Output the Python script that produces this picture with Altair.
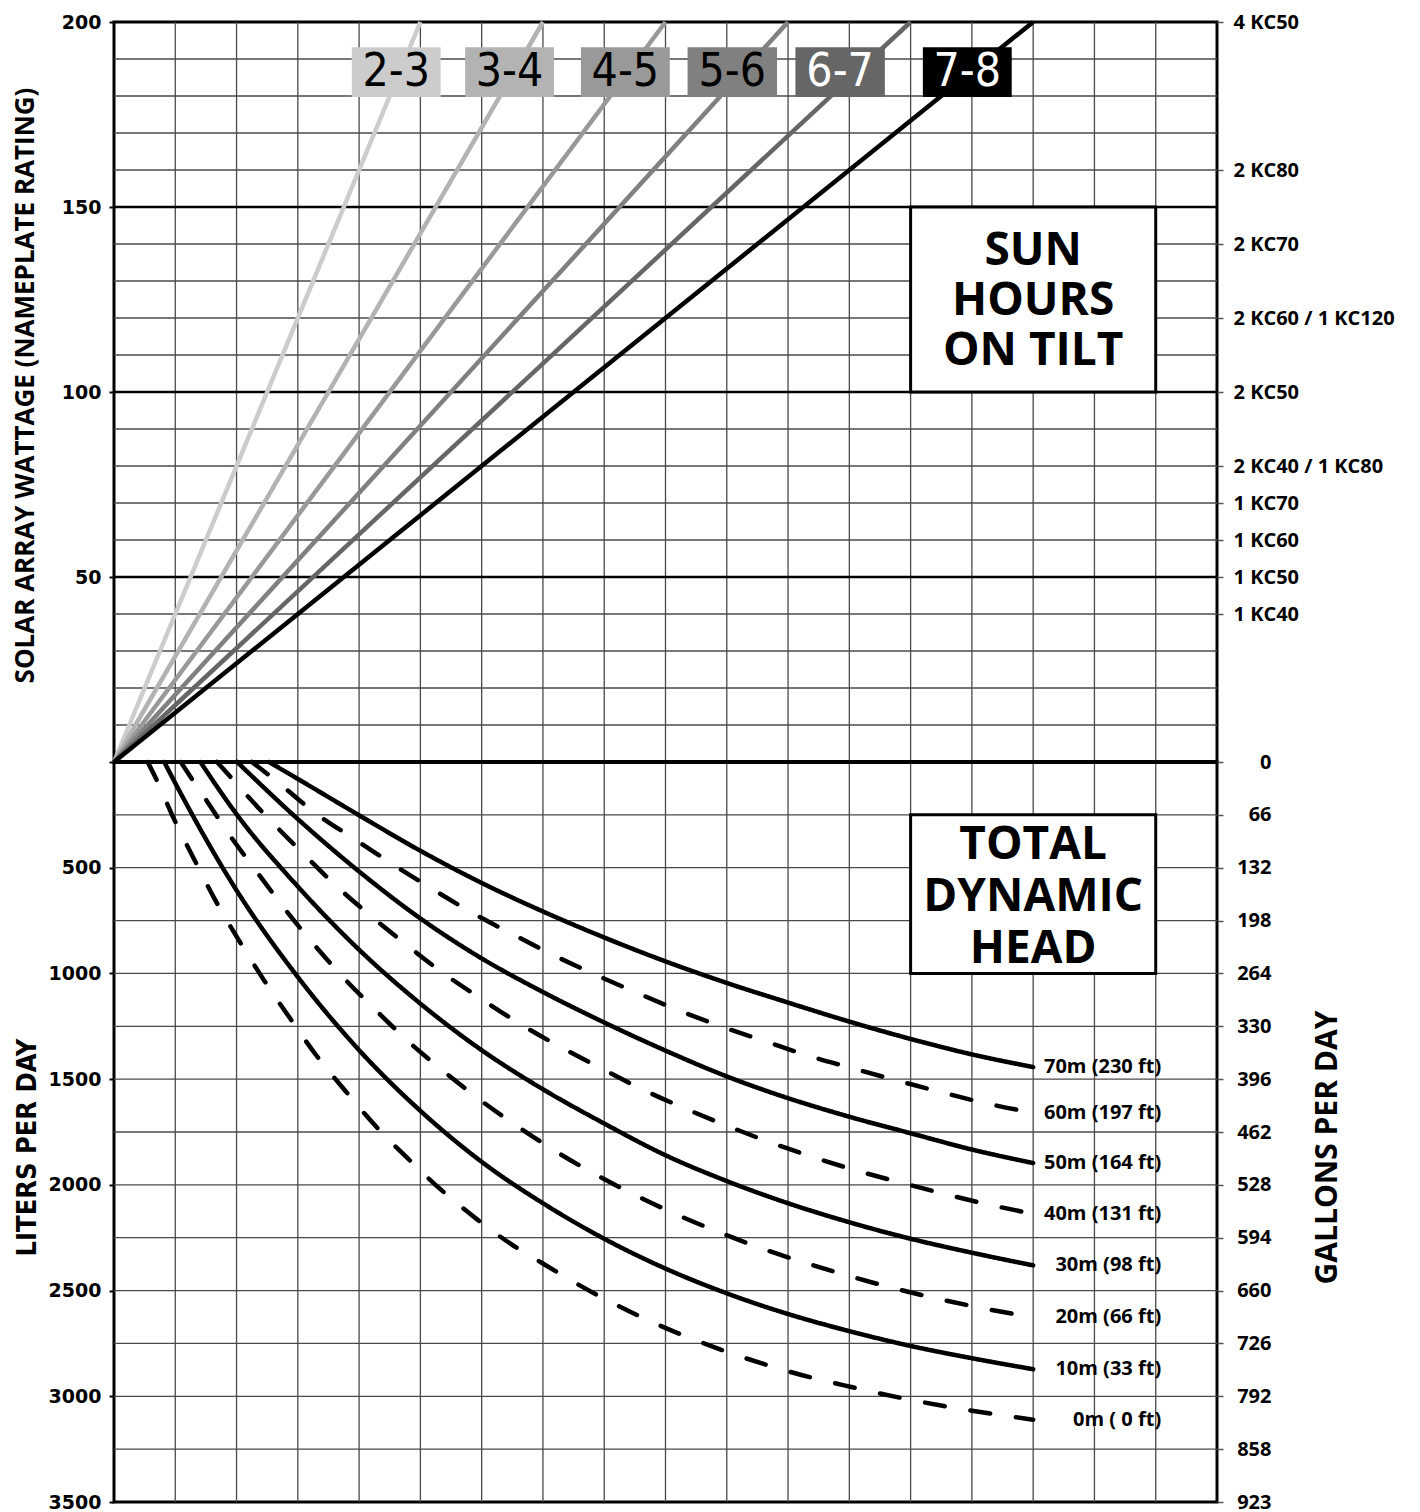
import altair as alt
import pandas as pd

# ---------------- data ----------------
GRID_COLS = list(range(1, 18))
WATT_MINOR = [10, 20, 30, 40, 60, 70, 80, 90, 110, 120, 130, 140, 160, 170, 180, 190]
WATT_MAJOR = [50, 100, 150]
WATT_LEFT = [0, 50, 100, 150, 200]
KC_WATTS = [200, 160, 140, 120, 100, 80, 70, 60, 50, 40]
KC_LABELS = ["4 KC50", "2 KC80", "2 KC70", "2 KC60 / 1 KC120", "2 KC50",
             "2 KC40 / 1 KC80", "1 KC70", "1 KC60", "1 KC50", "1 KC40"]

SUN_SERIES = ["2-3", "3-4", "4-5", "5-6", "6-7", "7-8"]
SUN_COL_AT_200W = [5, 7, 9, 11, 13, 15]
SUN_GRAYS = ["#cccccc", "#b3b3b3", "#999999", "#808080", "#666666", "#000000"]
SUN_TAG_X0 = [3.88, 5.73, 7.62, 9.36, 11.12, 13.2]
SUN_TAG_X1 = [5.33, 7.18, 9.07, 10.82, 12.58, 14.65]
SUN_TAG_W = [179.7, 193.2]

LITER_MINOR = list(range(250, 3500, 250))
LITER_LEFT = [500, 1000, 1500, 2000, 2500, 3000, 3500]
LITER_RIGHT = list(range(0, 3501, 250))
GALLON_LABELS = ["0", "66", "132", "198", "264", "330", "396", "462", "528",
                 "594", "660", "726", "792", "858", "923"]

TDH_NAMES = ["0m ( 0 ft)", "10m (33 ft)", "20m (66 ft)", "30m (98 ft)",
             "40m (131 ft)", "50m (164 ft)", "60m (197 ft)", "70m (230 ft)"]
TDH_STYLE = ["dashed", "solid", "dashed", "solid", "dashed", "solid", "dashed", "solid"]

TDH_0_X = [0.55, 0.68, 0.98, 1.32, 1.66, 2.05, 2.45, 2.87, 3.3, 3.78, 4.27, 4.79, 5.34,
           5.92, 6.52, 6.9, 7.84, 8.5, 9.18, 9.89, 10.6, 11.32, 12.05, 12.78, 13.52, 14.27, 15]
TDH_0_L = [0, 75, 270, 467, 657, 849, 1033, 1211, 1387, 1557, 1722, 1874, 2024,
           2162, 2288, 2355, 2514, 2611, 2699, 2778, 2847, 2907, 2957, 3004, 3045, 3080, 3111]
TDH_10_X = [0.82, 1, 2, 3, 4, 5, 6, 7, 8, 9, 10, 11, 12, 13, 14, 15]
TDH_10_L = [0, 100, 607, 1017, 1363, 1650, 1891, 2087, 2255, 2396, 2513, 2611, 2692, 2762, 2820, 2872]
TDH_20_X = [1.09, 1.25, 1.47, 1.88, 2.33, 2.78, 3.26, 3.76, 4.29, 4.83, 5.41, 6.0, 6.6, 7.24,
            7.9, 8.57, 9.25, 9.96, 10.65, 11.35, 12.08, 12.81, 13.54, 14.28, 15]
TDH_20_L = [0, 71, 165, 343, 519, 692, 862, 1025, 1179, 1329, 1470, 1604, 1726, 1847,
            1957, 2058, 2149, 2234, 2309, 2375, 2438, 2495, 2545, 2589, 2627]
TDH_30_X = [1.41, 2, 3, 4, 5, 6, 7, 8, 9, 10, 11, 12, 13, 14, 15]
TDH_30_L = [0, 247, 589, 888, 1143, 1363, 1548, 1710, 1860, 1982, 2087, 2177, 2255, 2321, 2381]
TDH_40_X = [1.68, 1.77, 2.02, 2.53, 3.07, 3.6, 4.17, 4.76, 5.35, 5.97, 6.6, 7.26, 7.91, 8.59,
            9.28, 9.96, 10.66, 11.37, 12.08, 12.81, 13.54, 14.27, 15]
TDH_40_L = [0, 28, 110, 270, 428, 579, 723, 862, 994, 1116, 1234, 1344, 1443, 1544,
            1634, 1715, 1794, 1865, 1929, 1987, 2042, 2093, 2137]
TDH_50_X = [2.01, 3, 4, 5, 6, 7, 8, 9, 10, 11, 12, 13, 14, 15]
TDH_50_L = [0, 270, 518, 740, 929, 1088, 1232, 1365, 1487, 1590, 1678, 1756, 1833, 1897]
TDH_60_X = [2.25, 2.39, 2.72, 3.26, 3.92, 4.55, 5.19, 5.83, 6.5, 7.16, 7.84, 8.53, 9.22, 9.93,
            10.64, 11.34, 12.07, 12.8, 13.52, 14.24, 15]
TDH_60_L = [0, 31, 107, 236, 364, 484, 600, 711, 814, 912, 1004, 1091, 1175, 1253,
            1322, 1390, 1450, 1508, 1563, 1615, 1659]
TDH_70_X = [2.53, 3, 4, 5, 6, 7, 8, 9, 10, 11, 12, 13, 14, 15]
TDH_70_L = [0, 80, 252, 420, 572, 707, 830, 943, 1045, 1138, 1228, 1310, 1383, 1443]

TDH_X = [TDH_0_X, TDH_10_X, TDH_20_X, TDH_30_X, TDH_40_X, TDH_50_X, TDH_60_X, TDH_70_X]
TDH_L = [TDH_0_L, TDH_10_L, TDH_20_L, TDH_30_L, TDH_40_L, TDH_50_L, TDH_60_L, TDH_70_L]

SUN_BOX = {"x0": 13, "x1": 17, "w0": 100, "w1": 150, "t": "SUN\nHOURS\nON TILT"}
TDH_BOX = {"x0": 13, "x1": 17, "l0": 250, "l1": 1000, "t": "TOTAL\nDYNAMIC\nHEAD"}

# ---------------- tables ----------------
sun_rows = []
for s, c in zip(SUN_SERIES, SUN_COL_AT_200W):
    sun_rows.append({"s": s, "c": 0, "w": 0})
    sun_rows.append({"s": s, "c": c, "w": 200})
df_sun = pd.DataFrame(sun_rows)
df_tags = pd.DataFrame({
    "s": SUN_SERIES, "x0": SUN_TAG_X0, "x1": SUN_TAG_X1,
    "w0": [SUN_TAG_W[0]] * 6, "w1": [SUN_TAG_W[1]] * 6,
})
df_tags["xm"] = (df_tags.x0 + df_tags.x1) / 2
df_tags["wm"] = (df_tags.w0 + df_tags.w1) / 2

tdh_rows = []
end_rows = []
for name, style, xs_, ls_ in zip(TDH_NAMES, TDH_STYLE, TDH_X, TDH_L):
    for i, (x, l) in enumerate(zip(xs_, ls_)):
        tdh_rows.append({"n": name, "st": style, "c": x, "l": l, "o": i})
    end_rows.append({"n": name, "c": xs_[-1], "l": ls_[-1]})
df_tdh = pd.DataFrame(tdh_rows)
df_end = pd.DataFrame(end_rows)

# ---------------- scales / styles ----------------
W, H = 1103, 740
XS = alt.Scale(domain=[0, 18], nice=False, zero=False)
YT = alt.Scale(domain=[0, 200], nice=False, zero=False)
YB = alt.Scale(domain=[0, 3500], nice=False, zero=False, reverse=True)
GRID_C = "#4a4a4a"
BOLD = "Open Sans"
NUMF = "DejaVu Sans"
NARROW = "Liberation Sans Narrow, DejaVu Sans Condensed, Open Sans"


def arr(vals, quote):
    if quote:
        return "[" + ",".join("'" + str(v) + "'" for v in vals) + "]"
    return "[" + ",".join(str(v) for v in vals) + "]"


kc_expr = arr(KC_LABELS, True) + "[indexof(" + arr(KC_WATTS, False) + ", datum.value)]"
gal_expr = arr(GALLON_LABELS, True) + "[indexof(" + arr(LITER_RIGHT, False) + ", datum.value)]"

X_ = lambda f: alt.X(f, type="quantitative", scale=XS, axis=None)

# ---------------- top panel ----------------
vgrid_t = alt.Chart(pd.DataFrame({"c": GRID_COLS})).mark_rule(
    color=GRID_C, strokeWidth=1.3).encode(x=X_("c"))

hminor_t = alt.Chart(pd.DataFrame({"w": WATT_MINOR})).mark_rule(
    color=GRID_C, strokeWidth=1.3).encode(
    y=alt.Y("w:Q", scale=YT, axis=alt.Axis(
        values=WATT_LEFT, format="d", labelExpr="datum.value == 0 ? '' : datum.label",
        domain=False, grid=False,
        tickSize=5, tickColor="black", tickWidth=2, labelPadding=8,
        labelFont=NUMF, labelFontWeight="bold", labelFontSize=19, labelColor="black",
        labelOverlap=False,
        title="SOLAR ARRAY WATTAGE (NAMEPLATE RATING)",
        titleFont=BOLD, titleFontWeight="bold", titleFontSize=26, titleColor="black",
        titleAngle=270, titleX=-89, titleY=363, titleAlign="center", titleBaseline="middle")))

hmajor_t = alt.Chart(pd.DataFrame({"w": WATT_MAJOR})).mark_rule(
    color="black", strokeWidth=2.5).encode(
    y=alt.Y("w:Q", scale=YT, axis=alt.Axis(
        orient="right", values=KC_WATTS, labelExpr=kc_expr, domain=False, grid=False,
        tickSize=6, tickColor="#555", tickWidth=1.5, labelPadding=10,
        labelFont=BOLD, labelFontWeight="bold", labelFontSize=20, labelColor="black",
        labelOverlap=False, labelAlign="left", title=None)))

zero_t = alt.Chart(pd.DataFrame({"w": [0]})).mark_rule(
    color="black", strokeWidth=4).encode(y=alt.Y("w:Q", scale=YT, axis=None))

sun_lines = alt.Chart(df_sun).mark_line(strokeWidth=4.5).encode(
    x=X_("c"), y=alt.Y("w:Q", scale=YT, axis=None),
    color=alt.Color("s:N", scale=alt.Scale(domain=SUN_SERIES, range=SUN_GRAYS), legend=None),
    detail="s:N")

tag_rects = alt.Chart(df_tags).mark_rect().encode(
    x=X_("x0"), x2="x1", y=alt.Y("w0:Q", scale=YT, axis=None), y2="w1",
    color=alt.Color("s:N", scale=alt.Scale(domain=SUN_SERIES, range=SUN_GRAYS), legend=None))

tag_text = alt.Chart(df_tags).mark_text(
    font=NARROW, fontSize=46, baseline="middle", align="center", dy=0).encode(
    x=X_("xm"), y=alt.Y("wm:Q", scale=YT, axis=None), text="s:N",
    color=alt.condition(alt.FieldOneOfPredicate(field="s", oneOf=["6-7", "7-8"]),
                        alt.value("white"), alt.value("black")))

sun_box = alt.Chart(pd.DataFrame([SUN_BOX])).mark_rect(
    fill="white", stroke="black", strokeWidth=3).encode(
    x=X_("x0"), x2="x1", y=alt.Y("w0:Q", scale=YT, axis=None), y2="w1")
sun_box_df = pd.DataFrame([{"xm": (SUN_BOX["x0"] + SUN_BOX["x1"]) / 2,
                            "wm": (SUN_BOX["w0"] + SUN_BOX["w1"]) / 2, "t": SUN_BOX["t"]}])
sun_box_text = alt.Chart(sun_box_df).mark_text(
    font=BOLD, fontWeight="bold", fontSize=46, lineBreak="\n", lineHeight=50,
    align="center", baseline="middle", color="black", dy=-49).encode(
    x=X_("xm"), y=alt.Y("wm:Q", scale=YT, axis=None), text="t:N")

top = alt.layer(vgrid_t, hminor_t, hmajor_t, zero_t, sun_lines, tag_rects, tag_text,
                sun_box, sun_box_text).resolve_axis(y="independent").properties(width=W, height=H)

# ---------------- bottom panel ----------------
vgrid_b = alt.Chart(pd.DataFrame({"c": GRID_COLS})).mark_rule(
    color=GRID_C, strokeWidth=1.3).encode(x=X_("c"))

hminor_b = alt.Chart(pd.DataFrame({"l": LITER_MINOR})).mark_rule(
    color=GRID_C, strokeWidth=1.3).encode(
    y=alt.Y("l:Q", scale=YB, axis=alt.Axis(
        values=LITER_LEFT, format="d", domain=False, grid=False,
        tickSize=5, tickColor="black", tickWidth=2, labelPadding=8,
        labelFont=NUMF, labelFontWeight="bold", labelFontSize=19, labelColor="black",
        labelOverlap=False,
        title="LITERS PER DAY",
        titleFont=NARROW, titleFontWeight="bold", titleFontSize=27, titleColor="black",
        titleAngle=270, titleX=-87, titleY=385, titleAlign="center", titleBaseline="middle")))

right_b = alt.Chart(pd.DataFrame({"l": LITER_RIGHT})).mark_rule(
    color="black", strokeWidth=4, opacity=0).encode(
    y=alt.Y("l:Q", scale=YB, axis=alt.Axis(
        orient="right", values=LITER_RIGHT, labelExpr=gal_expr, domain=False, grid=False,
        tickSize=6, tickColor="#555", tickWidth=1.5, labelPadding=48,
        labelFont=BOLD, labelFontWeight="bold", labelFontSize=20, labelColor="black",
        labelOverlap=False, labelAlign="right",
        title="GALLONS PER DAY", titleFont=BOLD, titleFontWeight="bold", titleFontSize=30,
        titleColor="black", titleAngle=270, titleX=110, titleY=385,
        titleAlign="center", titleBaseline="middle")))

zero_b = alt.Chart(pd.DataFrame({"l": [0]})).mark_rule(
    color="black", strokeWidth=4).encode(y=alt.Y("l:Q", scale=YB, axis=None))

tdh_lines = alt.Chart(df_tdh).mark_line(
    strokeWidth=4.5, strokeCap="round", interpolate="monotone", color="black").encode(
    x=X_("c"), y=alt.Y("l:Q", scale=YB, axis=None),
    detail="n:N", order="o:Q",
    strokeDash=alt.StrokeDash("st:N", scale=alt.Scale(domain=["solid", "dashed"],
                                                      range=[[1, 0], [20, 26]]), legend=None))

end_text = alt.Chart(df_end).mark_text(
    font=BOLD, fontWeight="bold", fontSize=20, align="right", baseline="middle",
    dx=128, color="black").encode(
    x=X_("c"), y=alt.Y("l:Q", scale=YB, axis=None), text="n:N")

tdh_box = alt.Chart(pd.DataFrame([TDH_BOX])).mark_rect(
    fill="white", stroke="black", strokeWidth=3).encode(
    x=X_("x0"), x2="x1", y=alt.Y("l0:Q", scale=YB, axis=None), y2="l1")
tdh_box_df = pd.DataFrame([{"xm": (TDH_BOX["x0"] + TDH_BOX["x1"]) / 2,
                            "lm": (TDH_BOX["l0"] + TDH_BOX["l1"]) / 2, "t": TDH_BOX["t"]}])
tdh_box_text = alt.Chart(tdh_box_df).mark_text(
    font=BOLD, fontWeight="bold", fontSize=46, lineBreak="\n", lineHeight=52,
    align="center", baseline="middle", color="black", dy=-49).encode(
    x=X_("xm"), y=alt.Y("lm:Q", scale=YB, axis=None), text="t:N")

bottom = alt.layer(vgrid_b, hminor_b, right_b, zero_b, tdh_lines, end_text,
                   tdh_box, tdh_box_text).resolve_axis(y="independent").properties(width=W, height=H)

chart = alt.vconcat(top, bottom, spacing=0, bounds="flush").properties(
    padding={"left": 2, "top": 2, "right": 5, "bottom": 0},
    background="white",
).configure_view(stroke="black", strokeWidth=3)

chart.save("out.html", embed_options={"renderer": "svg", "actions": False})
